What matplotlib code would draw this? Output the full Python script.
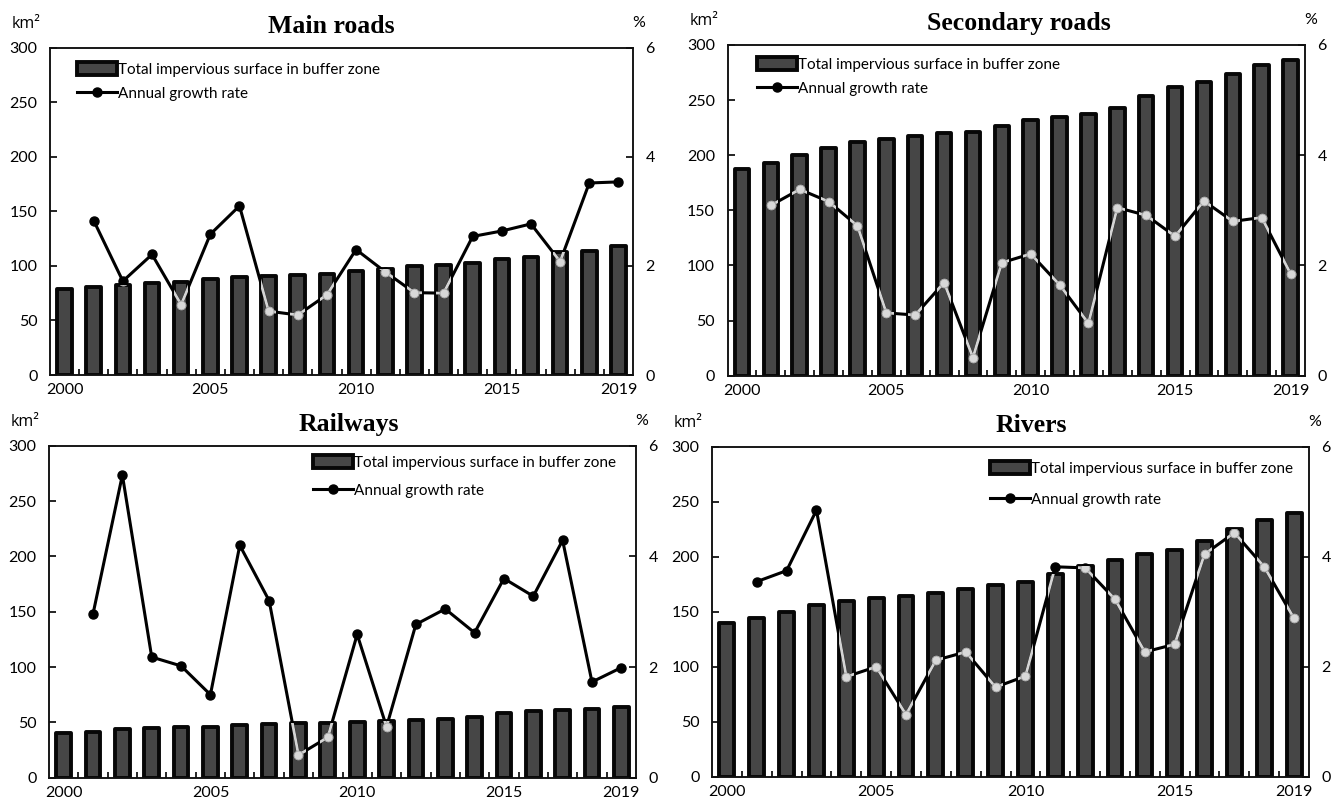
"""Impervious surface in buffer zones along roads, railways and rivers, 2000-2019."""

import numpy as np
import matplotlib.pyplot as plt

plt.rcParams["font.family"] = ["Lato", "DejaVu Sans"]

years = list(range(2000, 2020))
year_labels = ["2000", "2005", "2010", "2015", "2019"]
year_label_idx = [0, 5, 10, 15, 19]

# total impervious surface in buffer zone (km2)
main_area = [78.5, 81, 82.7, 84, 85, 87.6, 90, 91, 92, 92.8,
             95.5, 97.4, 99.8, 100.4, 102.9, 106, 107.8, 113, 113.9, 117.9]
secondary_area = [187.6, 192.7, 200, 206.4, 212, 214.5, 217, 220, 221, 226.6,
                  231.8, 234.8, 237.3, 243, 253.6, 262, 266, 273.6, 281.8, 286.4]
railway_area = [40, 41, 43.6, 44.5, 45.4, 46, 47.2, 48.7, 49, 49.3,
                50.5, 51.4, 52, 53.2, 55, 58.6, 60, 61.6, 62.5, 64]
river_area = [139.7, 144, 149.7, 156, 160, 162.5, 164.3, 167.6, 171.2, 174,
              177.3, 184.3, 191.5, 197, 202.5, 206.7, 214.3, 225.5, 233.4, 240]

# annual growth rate (%)
main_rate = [np.nan, 2.83, 1.72, 2.21, 1.29, 2.58, 3.10, 1.17, 1.10, 1.47,
             2.30, 1.89, 1.51, 1.50, 2.54, 2.64, 2.77, 2.08, 3.52, 3.54]
secondary_rate = [np.nan, 3.09, 3.38, 3.16, 2.72, 1.14, 1.10, 1.69, 0.33, 2.05,
                  2.21, 1.65, 0.95, 3.05, 2.91, 2.53, 3.17, 2.80, 2.87, 1.85]
railway_rate = [np.nan, 2.96, 5.47, 2.18, 2.02, 1.50, 4.20, 3.20, 0.41, 0.73,
                2.59, 0.92, 2.77, 3.05, 2.62, 3.60, 3.28, 4.29, 1.73, 1.99]
river_rate = [np.nan, 3.55, 3.75, 4.85, 1.82, 2.00, 1.13, 2.12, 2.27, 1.63,
              1.83, 3.82, 3.80, 3.23, 2.27, 2.41, 4.05, 4.44, 3.82, 2.88]

AREA_LABEL = "Total impervious surface in buffer zone"
RATE_LABEL = "Annual growth rate"

W, H = 1341, 807
BAR_FILL = "#464646"
BAR_EDGE = "#070707"
GHOST = "#d4d4d4"
TICK_SIZE = 11.5


def fig_rect(left, top, right, bottom):
    return [left / W, (H - bottom) / H, (right - left) / W, (bottom - top) / H]


def draw_panel(fig, box, title, area, rate, title_x, legend_xy, legend_gap):
    left, top, right, bottom = box
    ax = fig.add_axes(fig_rect(*box))
    x = np.arange(len(years))

    bars = ax.bar(x, area, width=0.5, color=BAR_FILL, edgecolor=BAR_EDGE,
                  linewidth=2.8, zorder=2)
    for bar in bars:
        bar.set_joinstyle("round")

    ax.set_xlim(-0.5, len(years) - 0.5)
    ax.set_ylim(0, 300)
    ax.set_yticks(range(0, 301, 50))
    ax.set_xticks(year_label_idx)
    ax.set_xticklabels(year_labels)
    ax.set_xticks(np.arange(0.5, len(years) - 1, 1), minor=True)
    ax.tick_params(axis="x", which="major", length=0, pad=6,
                   labelsize=TICK_SIZE)
    ax.tick_params(axis="x", which="minor", direction="in", length=4, width=1.2)
    ax.tick_params(axis="y", direction="in", length=5, width=1.2, pad=9,
                   labelsize=TICK_SIZE)

    ax2 = ax.twinx()
    ax2.set_ylim(0, 6)
    ax2.set_yticks([0, 2, 4, 6])
    ax2.tick_params(axis="y", direction="in", length=5, width=1.2, pad=9,
                    labelsize=TICK_SIZE)

    line, = ax2.plot(x, rate, color="black", lw=2.2, marker="o", ms=6.5,
                     zorder=3)
    # where the line runs over a bar it shows up light grey
    for bar in bars:
        ghost, = ax2.plot(x, rate, color=GHOST, lw=2.0, marker="o", ms=6.5,
                          mfc="#d8d8d8", mec="#a8a8a8", mew=0.8, zorder=4)
        ghost.set_clip_path(bar)

    for a in (ax, ax2):
        for spine in a.spines.values():
            spine.set_linewidth(1.1)
            spine.set_color("#111111")

    ax.set_title(title, fontfamily="Liberation Serif", fontweight="bold",
                 fontsize=18.5, pad=10.5, x=title_x)
    ax.annotate("km²", xy=(0, 1), xycoords="axes fraction", xytext=(-17, 17),
                textcoords="offset points", ha="center", va="center",
                fontsize=TICK_SIZE, fontfamily=["Open Sans", "DejaVu Sans"])
    ax.annotate("%", xy=(1, 1), xycoords="axes fraction", xytext=(4, 18),
                textcoords="offset points", ha="center", va="center",
                fontsize=TICK_SIZE)

    lx, ly = legend_xy
    anchor = ((lx - left) / (right - left), 1 - (ly - top) / (bottom - top))
    ax2.legend([bars, line], [AREA_LABEL, RATE_LABEL], loc="upper left",
               bbox_to_anchor=anchor, frameon=False, fontsize=11,
               handlelength=2.6, handleheight=0.95, handletextpad=0.1,
               borderpad=0, borderaxespad=0, labelspacing=legend_gap)
    return ax


fig = plt.figure(figsize=(W / 100, H / 100), dpi=100)

draw_panel(fig, (50, 47.7, 633, 375), "Main roads", main_area, main_rate,
           0.482, (77, 62), 0.60)
draw_panel(fig, (727.5, 45, 1305, 375.7), "Secondary roads", secondary_area,
           secondary_rate, 0.505, (757, 57), 0.60)
draw_panel(fig, (49, 445.7, 636, 777.7), "Railways", railway_area, railway_rate,
           0.51, (313, 455), 0.86)
draw_panel(fig, (712, 447, 1309, 776.7), "Rivers", river_area, river_rate,
           0.535, (990, 461), 1.06)

fig.savefig("out.png", dpi=100)
